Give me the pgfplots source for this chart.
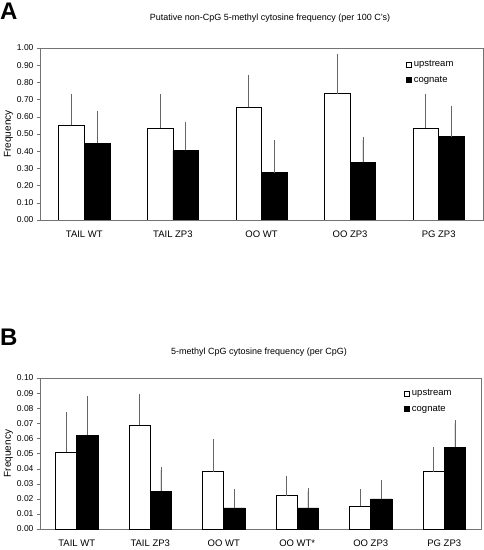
\documentclass[border=0pt]{standalone}
\usepackage{pgfplots}
\pgfplotsset{compat=1.18}
\usepackage{fontspec}
\setmainfont{Liberation Sans}
\begin{document}
\begin{tikzpicture}
\useasboundingbox (0pt,0pt) rectangle (484pt,550pt);
\pgfplotsset{
  myaxis/.style={
    scale only axis,
    ybar=0pt,
    bar width=0.29,
    axis line style={draw=black!55},
    ymin=0,
    xtick=data,
    x tick style={draw=none},
    y tick style={draw=black!55},
    tick align=outside,
    ytick pos=left,
    xtick pos=bottom,
    major tick length=3pt,
    /pgf/number format/assume math mode=true,
    yticklabel style={font=\fontsize{8.5}{9}\selectfont, /pgf/number format/.cd, fixed, fixed zerofill, precision=2},
    xticklabel style={font=\fontsize{9.5}{10}\selectfont, yshift=-4pt},
    ylabel={Frequency},
    ylabel style={font=\fontsize{10}{11}\selectfont, yshift=-3pt},
    legend style={draw=none, fill=none, font=\fontsize{9.5}{10}\selectfont, at={(0.945,0.95)}, anchor=north east, row sep=4pt},
    legend cell align=left,
    legend image code/.code={\draw[#1, draw=black] (2pt,-2.5pt) rectangle (7pt,2.5pt);},
    error bars/y dir=plus,
    error bars/y explicit,
    error bars/error bar style={draw=black!60, line width=0.7pt},
    error bars/error mark options={draw=black!60, mark size=3.5pt, line width=0.7pt},
  }
}
% Panel A
\node[font=\fontsize{24}{24}\selectfont\bfseries, anchor=north west, inner sep=0pt] at (0pt,547pt) {A};
\node[font=\fontsize{9}{10}\selectfont] at (270pt,532pt) {Putative non-CpG 5-methyl cytosine frequency (per 100 C's)};
\begin{axis}[myaxis,
  at={(40pt,330pt)}, anchor=south west, width=443pt, height=172pt,
  ymax=1.0, ytick={0,0.1,...,1.0},
  xmin=-0.5, xmax=4.5,
  xticklabels={TAIL WT, TAIL ZP3, OO WT, OO ZP3, PG ZP3},
]
\addplot[fill=white, draw=black, line width=0.6pt] coordinates {
  (0,0.550) +- (0,0.165)
  (1,0.535) +- (0,0.175)
  (2,0.655) +- (0,0.170)
  (3,0.735) +- (0,0.210)
  (4,0.535) +- (0,0.180)
};
\addplot[fill=black, draw=black, line width=0.6pt] coordinates {
  (0,0.445) +- (0,0.170)
  (1,0.405) +- (0,0.145)
  (2,0.275) +- (0,0.170)
  (3,0.335) +- (0,0.130)
  (4,0.485) +- (0,0.160)
};
\legend{upstream, cognate}
\end{axis}
% Panel B
\node[font=\fontsize{24}{24}\selectfont\bfseries, anchor=north west, inner sep=0pt] at (0pt,221pt) {B};
\node[font=\fontsize{9}{10}\selectfont] at (259pt,198pt) {5-methyl CpG cytosine frequency (per CpG)};
\begin{axis}[myaxis,
  at={(40pt,21pt)}, anchor=south west, width=441pt, height=151pt,
  ymax=0.10, ytick={0,0.01,...,0.1},
  xmin=-0.5, xmax=5.5,
  xticklabels={TAIL WT, TAIL ZP3, OO WT, OO WT*, OO ZP3, PG ZP3},
]
\addplot[fill=white, draw=black, line width=0.6pt] coordinates {
  (0,0.051) +- (0,0.024)
  (1,0.069) +- (0,0.018)
  (2,0.038) +- (0,0.019)
  (3,0.022) +- (0,0.011)
  (4,0.015) +- (0,0.009)
  (5,0.038) +- (0,0.014)
};
\addplot[fill=black, draw=black, line width=0.6pt] coordinates {
  (0,0.062) +- (0,0.024)
  (1,0.025) +- (0,0.014)
  (2,0.014) +- (0,0.010)
  (3,0.014) +- (0,0.011)
  (4,0.020) +- (0,0.010)
  (5,0.054) +- (0,0.016)
};
\legend{upstream, cognate}
\end{axis}
\end{tikzpicture}
\end{document}
